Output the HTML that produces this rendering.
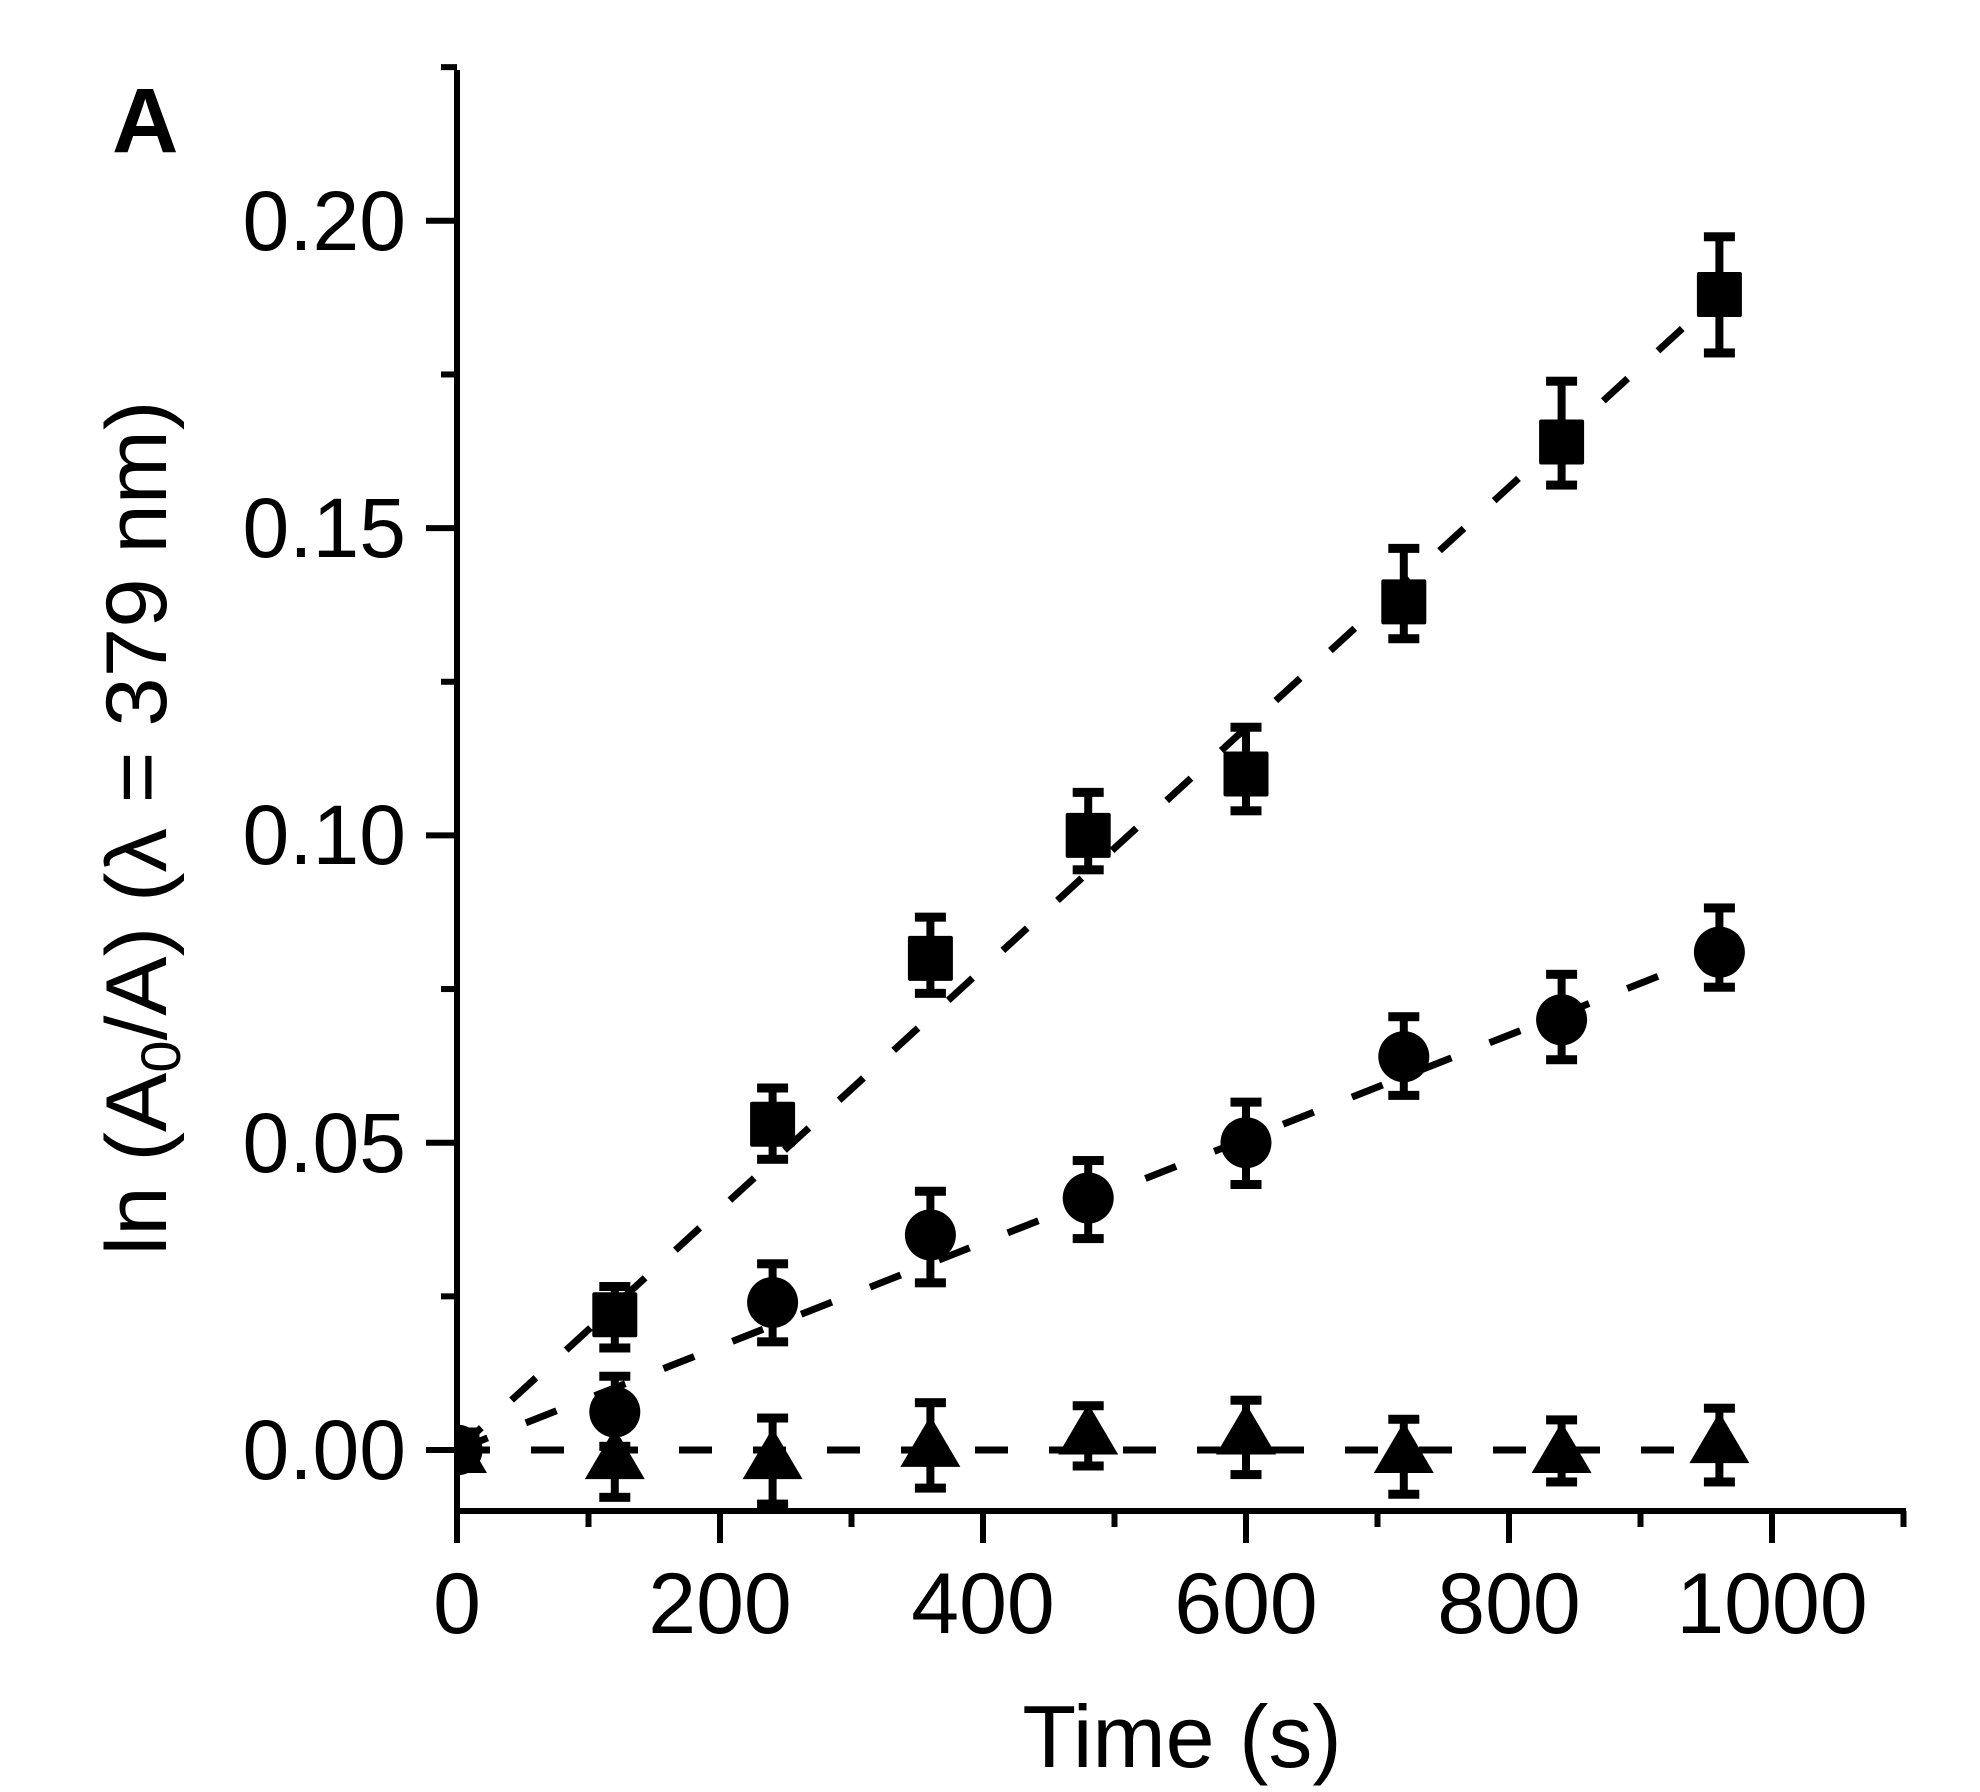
<!DOCTYPE html>
<html><head><meta charset="utf-8"><style>
html,body{margin:0;padding:0;background:#fff;}
svg{display:block;}
text{font-family:"Liberation Sans",Arial,sans-serif;fill:#000;}
</style></head><body>
<svg id="s" width="1980" height="1792" viewBox="0 0 1980 1792" xmlns="http://www.w3.org/2000/svg">
<defs><clipPath id="c"><rect x="459" y="60" width="1460" height="1450"/></clipPath></defs>
<g id="data" clip-path="url(#c)"></g>
<g stroke="#000" stroke-width="6" fill="none">
<line x1="457" y1="70" x2="457" y2="1514"/>
<line x1="454" y1="1511" x2="1906" y2="1511"/>
</g>
<g id="ticks" stroke="#000" stroke-width="6"></g>
<text x="112" y="152" font-size="92" font-weight="bold">A</text>
<g font-size="84" text-anchor="end">
<text x="406" y="250">0.20</text>
<text x="406" y="557">0.15</text>
<text x="406" y="864">0.10</text>
<text x="406" y="1172">0.05</text>
<text x="406" y="1479">0.00</text>
</g>
<g font-size="86" text-anchor="middle">
<text x="457" y="1633">0</text>
<text x="720" y="1633">200</text>
<text x="983" y="1633">400</text>
<text x="1246" y="1633">600</text>
<text x="1509" y="1633">800</text>
<text x="1772" y="1633">1000</text>
</g>
<text x="1182" y="1767" font-size="88" text-anchor="middle">Time (s)</text>
<text transform="translate(166,828) rotate(-90)" font-size="86" text-anchor="middle" textLength="855" lengthAdjust="spacingAndGlyphs">ln (A<tspan font-size="56" dy="14">0</tspan><tspan dy="-14">/A) (λ = 379 nm)</tspan></text>
</svg>
<script>
var NS="http://www.w3.org/2000/svg";
function X(t){return 457+1.315*t;}
function Y(v){return 1450-6146*v;}
function el(p,n,a){var e=document.createElementNS(NS,n);for(var k in a)e.setAttribute(k,a[k]);p.appendChild(e);return e;}
var tk=document.getElementById('ticks');
for(var i=0;i<=9;i++){var y=Y(i*0.025);el(tk,'line',{x1:i%2?441:426,x2:457,y1:y,y2:y});}
for(var i=0;i<=11;i++){var x=X(i*100);el(tk,'line',{x1:x,x2:x,y1:1511,y2:i%2?1527:1543});}
var d=document.getElementById('data');
var ds={"stroke":"#000","stroke-width":7,"stroke-dasharray":"33 41","fill":"none"};
function ln(v1){var a=Object.assign({x1:X(0),y1:Y(0),x2:X(960),y2:Y(v1)},ds);el(d,'line',a);}
ln(0.188);ln(0.081);ln(0);
var sq=[[0,0,0.002,-0.002],[120,0.022,0.0266,0.0166],[240,0.053,0.0589,0.0473],[360,0.080,0.0867,0.0743],[480,0.100,0.107,0.0944],[600,0.110,0.1176,0.104],[720,0.138,0.1467,0.132],[840,0.164,0.1739,0.157],[960,0.188,0.1974,0.1785]];
var ci=[[0,0,0.002,-0.002],[120,0.0062,0.012,0.0006],[240,0.024,0.0303,0.0176],[360,0.035,0.0421,0.0272],[480,0.041,0.0471,0.0344],[600,0.050,0.0566,0.0432],[720,0.064,0.0705,0.0577],[840,0.070,0.0774,0.0635],[960,0.081,0.0882,0.0753]];
var tr=[[0,0,0.002,-0.002],[120,-0.001,0.006,-0.0077],[240,-0.001,0.0052,-0.0088],[360,0.001,0.0077,-0.0062],[480,0.003,0.0072,-0.0026],[600,0.003,0.0081,-0.004],[720,0,0.005,-0.0072],[840,0,0.0049,-0.0052],[960,0.0016,0.0068,-0.0052]];
function eb(p){var x=X(p[0]);el(d,'line',{x1:x,x2:x,y1:Y(p[2]),y2:Y(p[3]),stroke:"#000","stroke-width":8});
[p[2],p[3]].forEach(function(v){el(d,'rect',{x:x-15.5,y:Y(v)-4.5,width:31,height:9,fill:"#000"});});}
sq.forEach(function(p){eb(p);el(d,'rect',{x:X(p[0])-22.5,y:Y(p[1])-22.5,width:45,height:45,rx:2,fill:"#000"});});
ci.forEach(function(p){eb(p);el(d,'circle',{cx:X(p[0]),cy:Y(p[1]),r:25.5,fill:"#000"});});
tr.forEach(function(p){eb(p);var x=X(p[0]),y=Y(p[1]);el(d,'polygon',{points:(x)+','+(y-28)+' '+(x+30)+','+(y+23)+' '+(x-30)+','+(y+23),fill:"#000","stroke-linejoin":"round"});});
</script>
</body></html>
